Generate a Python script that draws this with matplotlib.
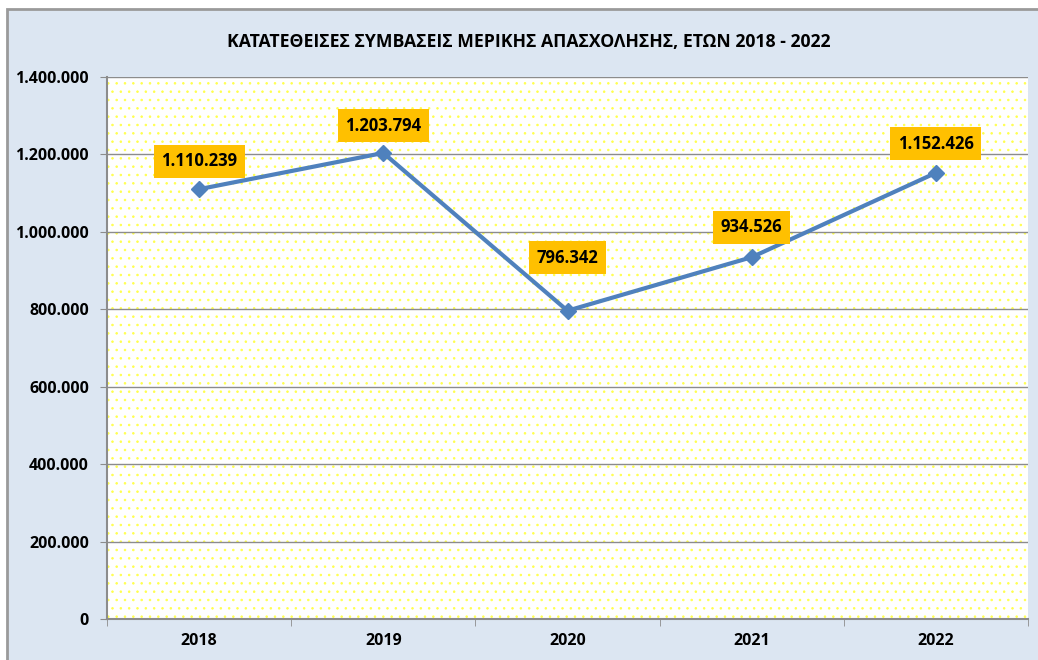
import matplotlib.pyplot as plt
from matplotlib.patches import Rectangle

years = ['2018', '2019', '2020', '2021', '2022']
values = [1110239, 1203794, 796342, 934526, 1152426]
label_texts = ['1.110.239', '1.203.794', '796.342', '934.526', '1.152.426']
yticks = [0, 200000, 400000, 600000, 800000, 1000000, 1200000, 1400000]

title = 'ΚΑΤΑΤΕΘΕΙΣΕΣ ΣΥΜΒΑΣΕΙΣ ΜΕΡΙΚΗΣ ΑΠΑΣΧΟΛΗΣΗΣ, ΕΤΩΝ 2018 - 2022'

plt.rcParams['font.family'] = ['Open Sans', 'DejaVu Sans']
plt.rcParams['hatch.linewidth'] = 0.6

fig = plt.figure(figsize=(10.38, 6.6), dpi=100, facecolor='white')
# fond bleu-gris du graphique avec cadre
fig.patches.append(Rectangle((7 / 1038, -0.05), 1.1, 651 / 660 + 0.05,
                             transform=fig.transFigure, facecolor='#DCE6F2',
                             edgecolor='#9A9A9A', linewidth=2, zorder=-10))

ax = fig.add_axes([107 / 1038, 41 / 660, 921 / 1038, 542 / 660])
ax.set_facecolor('white')
# motif de points jaunes
ax.add_patch(Rectangle((0, 0), 1, 1, transform=ax.transAxes, facecolor='white',
                       edgecolor='#FFFF4D', hatch='..', linewidth=0, zorder=0))

x = list(range(len(years)))
ax.plot(x, values, color='#4F81BD', linewidth=3, marker='D', markersize=8,
        markerfacecolor='#4F81BD', markeredgecolor='#4F81BD', zorder=5)

offsets = [28, 27, 53, 30, 29]
for xi, v, t, off in zip(x, values, label_texts, offsets):
    ax.annotate(t, (xi, v), xytext=(0, off), textcoords='offset pixels',
                ha='center', va='center', fontsize=12, fontweight='bold',
                bbox=dict(boxstyle='square,pad=0.45', facecolor='#FFC000', edgecolor='none'),
                zorder=6)

ax.set_xlim(-0.5, len(years) - 0.5)
ax.set_ylim(0, 1400000)
ax.set_yticks(yticks)
ax.set_yticklabels([f'{v:,}'.replace(',', '.') for v in yticks], fontsize=11.5, fontweight='bold')
ax.set_xticks(x)
ax.set_xticklabels(years, fontsize=11.5, fontweight='bold')
ax.tick_params(axis='x', which='major', length=0, pad=10)
ax.set_xticks([i - 0.5 for i in range(len(years) + 1)], minor=True)
ax.tick_params(axis='x', which='minor', length=5, color='#8C8C8C', direction='out')
ax.tick_params(axis='y', length=5, color='#8C8C8C', pad=8)
ax.grid(axis='y', color='#8C8C8C', linewidth=1, zorder=1)
ax.set_axisbelow(True)
for s in ['top', 'right']:
    ax.spines[s].set_visible(False)
for s in ['left', 'bottom']:
    ax.spines[s].set_color('#8C8C8C')
    ax.spines[s].set_linewidth(1.5)

fig.text(529 / 1038, 1 - 42 / 660, title, ha='center', va='center', fontsize=12.7, fontweight='bold')

fig.savefig('out.png', dpi=100)
